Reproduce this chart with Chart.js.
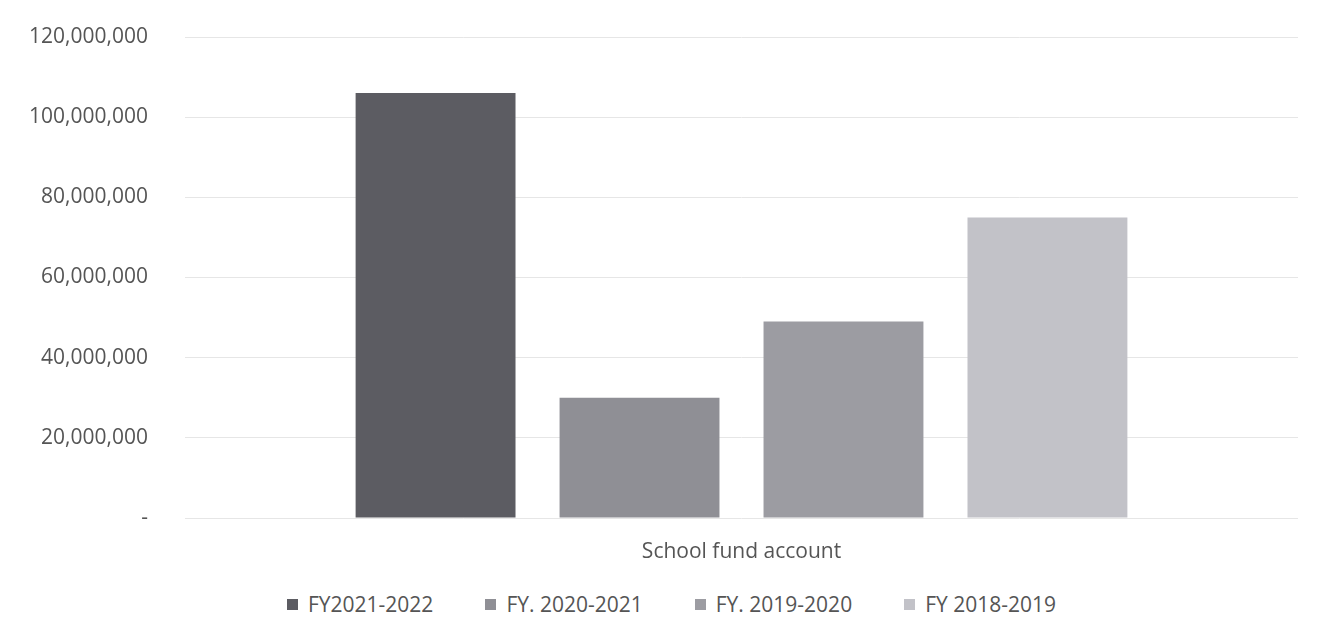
<!DOCTYPE html>
<html>
<head>
<meta charset="utf-8">
<script src="https://cdn.jsdelivr.net/npm/chart.js@4"></script>
<style>
  html, body { margin: 0; padding: 0; background: #fff; }
  #wrap { width: 1329px; height: 580px; }
  #legend {
    width: 1329px; height: 48px; display: flex; justify-content: center; align-items: center;
    gap: 52px; font-family: "Open Sans", sans-serif; font-size: 21px; color: #555;
    padding-left: 14px; box-sizing: border-box;
  }
  #legend .item { display: flex; align-items: center; }
  #legend .box { width: 11px; height: 11px; margin-right: 10px; }
</style>
</head>
<body>
<div id="wrap"><canvas id="fundChart"></canvas></div>
<div id="legend"></div>
<script>
const categories = ['School fund account'];
const seriesNames = ['FY2021-2022', 'FY. 2020-2021', 'FY. 2019-2020', 'FY 2018-2019'];
const fy2122 = [106000000];
const fy2021 = [30000000];
const fy1920 = [49000000];
const fy1819 = [75000000];
const seriesColors = ['#5c5c62', '#8f8f95', '#9c9ca2', '#c2c2c8'];

Chart.defaults.font.family = '"Open Sans", sans-serif';
Chart.defaults.color = '#555';

const ctxFund = document.getElementById('fundChart').getContext('2d');
const fundChart = new Chart(ctxFund, {
    type: 'bar',
    data: {
        labels: categories,
        datasets: [fy2122, fy2021, fy1920, fy1819].map((vals, i) => ({
            label: seriesNames[i],
            data: vals,
            backgroundColor: seriesColors[i],
            borderWidth: 0,
            categoryPercentage: 0.733,
            barPercentage: 0.784
        }))
    },
    options: {
        responsive: true,
        maintainAspectRatio: false,
        animation: false,
        layout: { padding: { left: 0, right: 31, top: 37, bottom: 18 } },
        plugins: {
            tooltip: { enabled: false },
            legend: { display: false }
        },
        scales: {
            x: {
                grid: { display: false },
                border: { display: false },
                afterFit: scale => { scale.height = 44; },
                ticks: { font: { size: 21 }, color: '#555', padding: 13 }
            },
            y: {
                min: 0,
                max: 120000000,
                grid: { color: '#e6e6e6', drawTicks: false },
                border: { display: false },
                afterFit: scale => { scale.width = 185; scale.paddingTop = 0; },
                ticks: {
                    stepSize: 20000000,
                    padding: 37,
                    font: { size: 21 },
                    color: '#555',
                    callback: v => v === 0 ? '-' : v.toLocaleString('en-US')
                }
            }
        }
    }
});

// legend built from the chart's datasets
const legendEl = document.getElementById('legend');
fundChart.data.datasets.forEach(ds => {
    const item = document.createElement('div');
    item.className = 'item';
    const box = document.createElement('span');
    box.className = 'box';
    box.style.background = ds.backgroundColor;
    item.appendChild(box);
    item.appendChild(document.createTextNode(ds.label));
    legendEl.appendChild(item);
});
</script>
</body>
</html>
